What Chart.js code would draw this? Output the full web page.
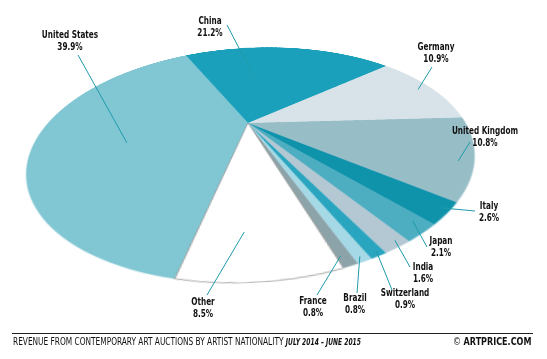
<!DOCTYPE html>
<html><head><meta charset="utf-8">
<script src="https://cdn.jsdelivr.net/npm/chart.js@4.4.1/dist/chart.umd.min.js"></script>
<style>
html,body{margin:0;padding:0;background:#fff;}
#wrap{position:relative;width:547px;height:359px;overflow:hidden;background:#fff;}
#pie{position:absolute;left:38px;top:-87px;width:420px;height:420px;transform-origin:210px 210px;transform:perspective(509px) rotateZ(-3.3deg) rotateX(60.84deg);}
#ov{position:absolute;left:0;top:0;width:547px;height:359px;}
.lbl{position:absolute;font-family:"Liberation Sans Narrow","DejaVu Sans Condensed",sans-serif;font-weight:bold;font-size:11px;line-height:12.5px;color:#111;text-align:center;white-space:nowrap;}
#rule{position:absolute;left:12px;top:333px;width:521px;height:0;border-top:1px solid #222;}
#foot{position:absolute;left:13px;top:335px;font-family:"Liberation Sans Narrow","DejaVu Sans Condensed",sans-serif;font-size:10.5px;color:#111;white-space:nowrap;transform-origin:0 0;}
#foot i{font-weight:bold;font-size:8.5px;}
#copy{position:absolute;left:453px;top:335px;font-family:"Liberation Sans Narrow","DejaVu Sans Condensed",sans-serif;font-size:11px;color:#111;white-space:nowrap;transform-origin:0 0;}
#copy b{font-weight:bold;}
</style></head>
<body>
<div id="wrap">
  <canvas id="pie" width="420" height="420"></canvas>
  <canvas id="ov" width="547" height="359"></canvas>
  <div id="labels"></div>
  <div id="rule"></div>
  <div id="foot">REVENUE FROM CONTEMPORARY ART AUCTIONS BY ARTIST NATIONALITY <i>JULY 2014 – JUNE 2015</i></div>
  <div id="copy">© <b>ARTPRICE.COM</b></div>
</div>
<script>
// ---- data ----
const categories = ["United States","China","Germany","United Kingdom","Italy","Japan","India","Switzerland","Brazil","France","Other"];
const shares = [39.9,21.2,10.9,10.8,2.6,2.1,1.6,0.9,0.8,0.8,8.5];
const sliceColors = ["#80C6D3","#1BA0BB","#D8E3E9","#97BDC7","#0F93AB","#4DADC1","#B4C8D4","#29A5BF","#A6D9E6","#8CA3A9","#FFFFFF"];

// ---- layout (label placement) ----
const labelCenter = [[70,35],[210,21],[436,47],[485,131],[489,206],[441,241],[423,267],[405,293],[355,298],[313,301],[203,302]];
const leaderOuter = [[78,55],[227,25],[432,67],[470,142],[475,211],[427,247],[410,267],[392,290],[357,293],[317,295],[207,295]];
const leaderInner = [[0.44,0.57],[0.36,0.52],[0.5,0.93],[0.58,0.94],[0.4,0.97],[0.3,0.94],[0.35,0.97],[0.4,0.98],[0.55,0.975],[0.7,0.95],[0.6,0.77]];

// perspective parameters (must match CSS transform of #pie)
const PERSP = 509, TILT = 60.84*Math.PI/180, SPIN = -3.3*Math.PI/180;
const APEX = [38+210, -87+210];

const labelsDiv = document.getElementById('labels');
const lblDivs = categories.map((c,i)=>{
  const d = document.createElement('div');
  d.className = 'lbl';
  d.style.left = labelCenter[i][0]+'px';
  d.style.top = (labelCenter[i][1]-6.25)+'px';
  d.innerHTML = c + '<br>' + shares[i].toFixed(1) + '%';
  labelsDiv.appendChild(d);
  return d;
});
// condense text to the reference's narrow face
const lblScale = 56 / lblDivs[0].offsetWidth;
lblDivs.forEach(d=>{ d.style.transform = 'translateX(-50%) scaleX('+lblScale.toFixed(3)+')'; });
const foot = document.getElementById('foot');
foot.style.transform = 'scaleX('+(348/foot.offsetWidth).toFixed(3)+')';
const copy = document.getElementById('copy');
copy.style.transform = 'scaleX('+(78/copy.offsetWidth).toFixed(3)+')';

function project(px, py){
  const z = py*Math.sin(TILT);
  const sc = PERSP/(PERSP - z);
  const X = px*sc, Y = py*Math.cos(TILT)*sc;
  return [APEX[0] + X*Math.cos(SPIN) - Y*Math.sin(SPIN), APEX[1] + X*Math.sin(SPIN) + Y*Math.cos(SPIN)];
}

const leaderPlugin = {
  id:'leaders',
  afterDraw(chart){
    const ov = document.getElementById('ov').getContext('2d');
    ov.clearRect(0,0,547,359);
    ov.strokeStyle = '#1E9BAA';
    ov.lineWidth = 1;
    const meta = chart.getDatasetMeta(0);
    meta.data.forEach((arc,i)=>{
      const p = arc.getProps(['x','y','startAngle','endAngle','outerRadius'], true);
      const a = p.startAngle + leaderInner[i][0]*(p.endAngle-p.startAngle);
      const r = leaderInner[i][1]*p.outerRadius;
      const q = project(r*Math.cos(a), r*Math.sin(a));
      ov.beginPath();
      ov.moveTo(q[0], q[1]);
      ov.lineTo(leaderOuter[i][0], leaderOuter[i][1]);
      ov.stroke();
    });
  }
};

new Chart(document.getElementById('pie'), {
  type:'pie',
  data:{labels:categories, datasets:[{
    data:shares,
    backgroundColor:sliceColors,
    borderColor:sliceColors.map((c,i)=> i===sliceColors.length-1 ? '#9E9E9E' : c),
    borderWidth:sliceColors.map((c,i)=> i===sliceColors.length-1 ? 0.8 : 0)
  }]},
  options:{
    responsive:false, animation:false, devicePixelRatio:2,
    rotation:194.8,
    layout:{padding:0},
    plugins:{legend:{display:false}, tooltip:{enabled:false}}
  },
  plugins:[leaderPlugin]
});
</script>
</body></html>
